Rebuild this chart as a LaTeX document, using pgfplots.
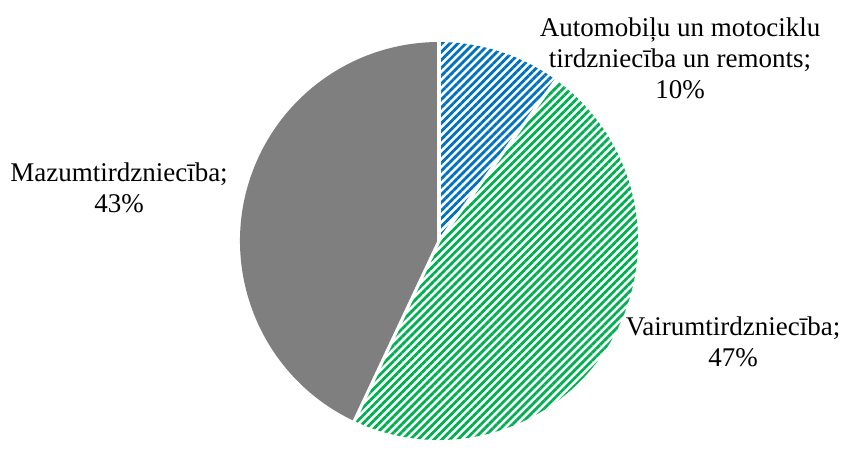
\documentclass[border=0pt]{standalone}
\usepackage{pgfplots}
\pgfplotsset{compat=1.18}
\usepackage{pgfplotstable}
\usepackage{fontspec}
\setmainfont{Liberation Serif}
\usetikzlibrary{patterns.meta}

\definecolor{autoblue}{HTML}{0070C0}
\definecolor{wholegreen}{HTML}{00B050}
\definecolor{retailgray}{HTML}{7F7F7F}

% shares in percent, clockwise from 12 o'clock
\pgfplotstableread{
share
10
47
43
}\shares

\pgfplotstablegetelem{0}{share}\of\shares \let\shareA\pgfplotsretval
\pgfplotstablegetelem{1}{share}\of\shares \let\shareB\pgfplotsretval
\pgfplotstablegetelem{2}{share}\of\shares \let\shareC\pgfplotsretval
\pgfmathsetmacro{\angA}{90}
\pgfmathsetmacro{\angB}{90-3.6*\shareA}
\pgfmathsetmacro{\angC}{\angB-3.6*\shareB}
\pgfmathsetmacro{\angD}{\angC-3.6*\shareC}
\def\pieR{99.5pt}
\tikzset{lbl/.style={align=center, font=\fontsize{13.5}{15.5}\selectfont, inner sep=0pt},
  hatch/.style={pattern={Lines[angle=45,distance=2.8pt,line width=1.4pt]}}}

\begin{document}
\begin{tikzpicture}
\begin{axis}[
    width=422pt, height=219.5pt,
    scale only axis,
    xmin=0, xmax=844, ymin=0, ymax=439,
    y dir=reverse,
    hide axis,
    clip=false,
]
\path (axis cs:0,0) rectangle (axis cs:844,439);
\fill[hatch, pattern color=autoblue]
    (axis cs:439,241) -- ++(\angA:\pieR) arc[start angle=\angA, end angle=\angB, radius=\pieR] -- cycle;
\fill[hatch, pattern color=wholegreen]
    (axis cs:439,241) -- ++(\angB:\pieR) arc[start angle=\angB, end angle=\angC, radius=\pieR] -- cycle;
\fill[retailgray]
    (axis cs:439,241) -- ++(\angC:\pieR) arc[start angle=\angC, end angle=\angD, radius=\pieR] -- cycle;
\draw[white, line width=1.6pt] (axis cs:439,241) -- ++(\angA:101pt);
\draw[white, line width=1.6pt] (axis cs:439,241) -- ++(\angB:101pt);
\draw[white, line width=1.6pt] (axis cs:439,241) -- ++(\angC:101pt);

\node[lbl] at (axis cs:680,58) {Automobiļu un motociklu\\tirdzniecība un remonts;\\10\%};
\node[lbl] at (axis cs:119,188) {Mazumtirdzniecība;\\43\%};
\node[lbl] at (axis cs:733,342) {Vairumtirdzniecība;\\47\%};
\end{axis}
\end{tikzpicture}
\end{document}
